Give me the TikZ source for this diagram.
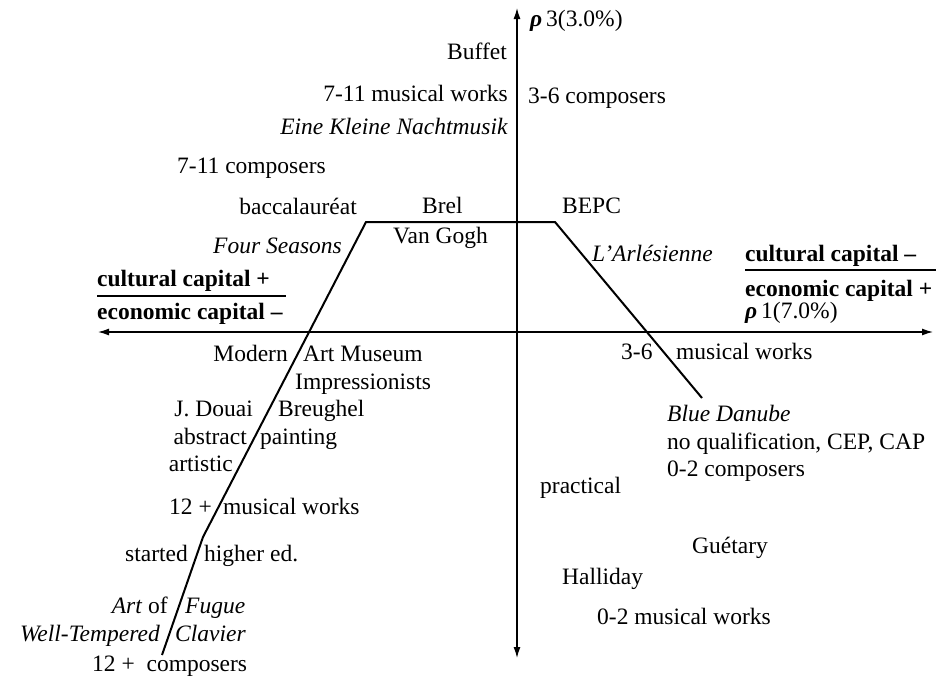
\documentclass[tikz,border=0pt]{standalone}
\usepackage{fontspec}
\setmainfont{Liberation Serif}
\usetikzlibrary{arrows.meta}
\tikzset{
  lab/.style={inner sep=0pt, yshift=-4pt, font=\fontsize{23.5}{28}\selectfont},
  L/.style={lab, anchor=mid west},
  R/.style={lab, anchor=mid east},
  axis/.style={line width=1.3pt, {Latex[length=11pt,width=7pt]}-{Latex[length=11pt,width=7pt]}},
  curve/.style={line width=2pt, line join=miter},
  rule/.style={line width=1.2pt}
}
\newcommand{\axsym}{\textbf{\textit{ρ}}\,}
\begin{document}
\begin{tikzpicture}[x=1pt,y=-1pt]
\useasboundingbox (0,0) rectangle (948,680);
% axes
\coordinate (vtop) at (517,8);
\coordinate (vbot) at (517,658);
\coordinate (hl) at (98,332);
\coordinate (hr) at (933,332);
\draw[axis] (vbot) -- (vtop);
\draw[axis] (hl) -- (hr);
% trapezoid curve
\coordinate (c1) at (162,655);
\coordinate (c2) at (203,537);
\coordinate (c3) at (366,222);
\coordinate (c4) at (555,222);
\coordinate (c5) at (702,398);
\draw[curve] (c1) -- (c2) -- (c3) -- (c4) -- (c5);
% top right
\node[L] (ax3) at (530,20) {\axsym3(3.0\%)};
\node[L] (c36) at (528,97) {3-6 composers};
\node[L] (bepc) at (562,207) {BEPC};
\node[L] (arl) at (592,255) {\textit{L'Arlésienne}};
\node[L] (ccm) at (745,255) {\textbf{cultural capital  --}};
\coordinate (u2a) at (745,270);
\coordinate (u2b) at (936,270);
\draw[rule] (u2a) -- (u2b);
\node[L] (ecp) at (745,290) {\textbf{economic capital  +}};
\node[L] (ax1) at (745,312) {\axsym1(7.0\%)};
% top left
\node[R] (buffet) at (507,53) {Buffet};
\node[R] (m711) at (508,95) {7-11 musical works};
\node[R] (ekn) at (508,128) {\textit{Eine Kleine Nachtmusik}};
\node[L] (c711) at (177,167) {7-11 composers};
\node[R] (bac) at (357,208) {baccalauréat};
\node[L] (brel) at (422,207) {Brel};
\node[L] (vg) at (393,237) {Van Gogh};
\node[R] (fs) at (342,247) {\textit{Four Seasons}};
\node[L] (ccp) at (97,280) {\textbf{cultural capital  +}};
\coordinate (u1a) at (97,296);
\coordinate (u1b) at (286,296);
\draw[rule] (u1a) -- (u1b);
\node[L] (ecm) at (97,313) {\textbf{economic capital  --}};
% bottom left
\node[R] (modern) at (288,355) {Modern};
\node[L] (artm) at (303,355) {Art Museum};
\node[L] (impr) at (295,383) {Impressionists};
\node[R] (douai) at (253,410) {J. Douai};
\node[L] (breu) at (278,410) {Breughel};
\node[R] (abst) at (247,438) {abstract};
\node[L] (paint) at (260,438) {painting};
\node[R] (artis) at (233,465) {artistic};
\node[R] (t12) at (212,508) {12 +};
\node[L] (mw12) at (223,508) {musical works};
\node[R] (start) at (188,555) {started};
\node[L] (hed) at (204,555) {higher ed.};
\node[R] (artof) at (168,607) {\textit{Art} of};
\node[L] (fugue) at (185,607) {\textit{Fugue}};
\node[R] (wt) at (160,635) {\textit{Well-Tempered}};
\node[L] (clav) at (175,635) {\textit{Clavier}};
\node[L] (c12) at (92,665) {12 +\ \ composers};
% bottom right
\node[L] (t36) at (621,353) {3-6};
\node[L] (mw36) at (676,353) {musical works};
\node[L] (bd) at (667,415) {\textit{Blue Danube}};
\node[L] (noq) at (667,443) {no qualification, CEP, CAP};
\node[L] (c02) at (667,470) {0-2 composers};
\node[L] (pract) at (540,487) {practical};
\node[L] (guet) at (692,547) {Guétary};
\node[L] (hall) at (562,578) {Halliday};
\node[L] (mw02) at (597,618) {0-2 musical works};
\end{tikzpicture}
\end{document}
